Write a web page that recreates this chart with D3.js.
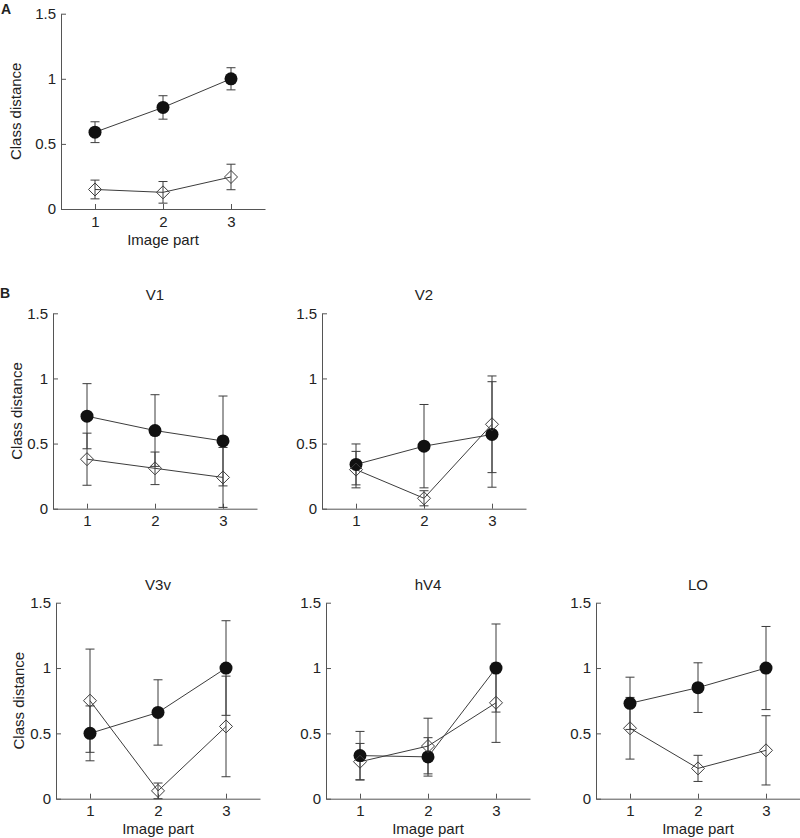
<!DOCTYPE html>
<html>
<head>
<meta charset="utf-8">
<script src="https://cdn.jsdelivr.net/npm/d3@7"></script>
<style>
  body { margin: 0; background: #fff; }
  svg text { font-family: "Liberation Sans", Arial, sans-serif; fill: #222; }
</style>
</head>
<body>
<svg id="chart" width="800" height="838"></svg>
<script>
// image parts on the x axis
var parts = [1, 2, 3];
var panelNames = ["", "V1", "V2", "V3v", "hV4", "LO"];
var yTicks = [0, 0.5, 1, 1.5];
var yTickLabels = ["0", "0.5", "1", "1.5"];

// filled circles: mean and half error bar
var filledMean = [
	[0.59, 0.78, 1.0],
	[0.71, 0.60, 0.52],
	[0.34, 0.48, 0.57],
	[0.50, 0.66, 1.0],
	[0.33, 0.32, 1.0],
	[0.73, 0.85, 1.0]
];
var filledErr = [
	[0.08, 0.09, 0.085],
	[0.25, 0.275, 0.345],
	[0.157, 0.32, 0.405],
	[0.21, 0.25, 0.362],
	[0.185, 0.147, 0.337],
	[0.2, 0.19, 0.318]
];
// open diamonds: mean and half error bar
var openMean = [
	[0.15, 0.128, 0.246],
	[0.38, 0.31, 0.24],
	[0.30, 0.08, 0.648],
	[0.75, 0.06, 0.553],
	[0.283, 0.403, 0.734],
	[0.539, 0.232, 0.37]
];
var openErr = [
	[0.072, 0.083, 0.098],
	[0.2, 0.125, 0.23],
	[0.14, 0.058, 0.371],
	[0.395, 0.06, 0.385],
	[0.14, 0.213, 0.303],
	[0.236, 0.1, 0.265]
];

// where each panel sits (x of left axis, y of 0 and 1.5, y label offset)
var layout = [
	{x0: 61,  yb: 209,   yt: 13.7,  ylab: 40, xlab: true},
	{x0: 53,  yb: 508.7, yt: 313.3, ylab: 31, xlab: false},
	{x0: 322, yb: 508.7, yt: 313.3, ylab: 0,  xlab: false},
	{x0: 56,  yb: 798.7, yt: 602.7, ylab: 32, xlab: true},
	{x0: 326, yb: 798.7, yt: 602.7, ylab: 0,  xlab: true},
	{x0: 596, yb: 798.7, yt: 602.7, ylab: 0,  xlab: true}
];

var svg = d3.select("#chart");
var axisColor = "#555";
var lineColor = "#3c3c3c";

// panel letters
svg.append("text").attr("x", 1).attr("y", 14)
	.attr("font-size", "14px").attr("font-weight", "bold").text("A");
svg.append("text").attr("x", 0).attr("y", 298)
	.attr("font-size", "14px").attr("font-weight", "bold").text("B");

layout.forEach(function(p, k) {
	var xs = d3.scaleLinear().domain([0.5, 3.5]).range([p.x0, p.x0 + 204]);
	var ys = d3.scaleLinear().domain([0, 1.5]).range([p.yb, p.yt]);
	var g = svg.append("g");

	// y axis
	var ya = g.append("g").attr("transform", "translate(" + p.x0 + ",0)")
		.call(d3.axisLeft(ys).tickValues(yTicks)
			.tickFormat(function(d, i) { return yTickLabels[i]; })
			.tickSizeInner(-5).tickSizeOuter(0).tickPadding(5));
	// x axis
	var xa = g.append("g").attr("transform", "translate(0," + p.yb + ")")
		.call(d3.axisBottom(xs).tickValues(parts).tickFormat(d3.format("d"))
			.tickSizeInner(-5).tickSizeOuter(0).tickPadding(7));
	[ya, xa].forEach(function(a) {
		a.select(".domain").attr("stroke", axisColor);
		a.selectAll(".tick line").attr("stroke", axisColor);
		a.selectAll(".tick text").attr("font-size", "15px")
			.attr("font-family", "Liberation Sans, Arial, sans-serif").attr("fill", "#222");
	});

	// titles and labels
	if (panelNames[k] != "") {
		g.append("text").attr("x", xs(2)).attr("y", p.yt - 13)
			.attr("text-anchor", "middle").attr("font-size", "15px").text(panelNames[k]);
	}
	if (p.ylab > 0) {
		g.append("text")
			.attr("transform", "translate(" + (p.x0 - p.ylab) + "," + ((p.yb + p.yt) / 2) + ") rotate(-90)")
			.attr("text-anchor", "middle").attr("font-size", "15px").text("Class distance");
	}
	if (p.xlab) {
		g.append("text").attr("x", xs(2)).attr("y", p.yb + 35.5)
			.attr("text-anchor", "middle").attr("font-size", "15px").text("Image part");
	}

	var line = d3.line()
		.x(function(d, i) { return xs(parts[i]); })
		.y(function(d) { return ys(d); });

	// connecting lines
	[filledMean[k], openMean[k]].forEach(function(series) {
		g.append("path").datum(series)
			.attr("fill", "none").attr("stroke", lineColor).attr("stroke-width", 1)
			.attr("d", line);
	});

	// error bars
	var cap = 4.5;
	[[filledMean[k], filledErr[k]], [openMean[k], openErr[k]]].forEach(function(se) {
		var m = se[0], e = se[1];
		var eb = g.append("g").attr("stroke", lineColor).attr("stroke-width", 1);
		parts.forEach(function(x, i) {
			var lo = ys(m[i] - e[i]), hi = ys(m[i] + e[i]);
			eb.append("line").attr("x1", xs(x)).attr("x2", xs(x)).attr("y1", lo).attr("y2", hi);
			eb.append("line").attr("x1", xs(x) - cap).attr("x2", xs(x) + cap).attr("y1", lo).attr("y2", lo);
			eb.append("line").attr("x1", xs(x) - cap).attr("x2", xs(x) + cap).attr("y1", hi).attr("y2", hi);
		});
	});

	// filled circles
	g.append("g").selectAll("circle").data(filledMean[k]).enter().append("circle")
		.attr("cx", function(d, i) { return xs(parts[i]); })
		.attr("cy", function(d) { return ys(d); })
		.attr("r", 6.5)
		.attr("fill", "#111");

	// open diamonds
	var s = 6.5;
	g.append("g").selectAll("path").data(openMean[k]).enter().append("path")
		.attr("transform", function(d, i) { return "translate(" + xs(parts[i]) + "," + ys(d) + ")"; })
		.attr("d", "M0," + (-s) + "L" + s + ",0L0," + s + "L" + (-s) + ",0Z")
		.attr("fill", "none").attr("stroke", lineColor).attr("stroke-width", 1);
});
</script>
</body>
</html>
